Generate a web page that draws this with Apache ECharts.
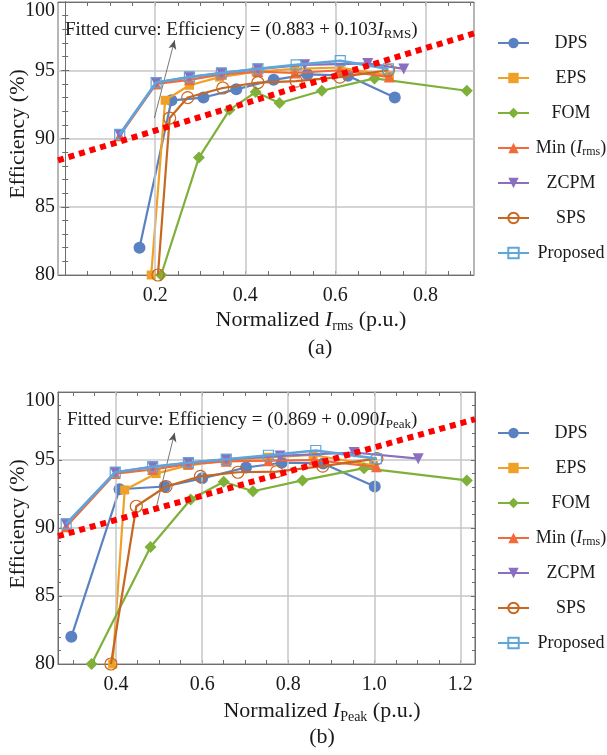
<!DOCTYPE html>
<html><head><meta charset="utf-8">
<script src="https://cdn.jsdelivr.net/npm/echarts@6/dist/echarts.min.js"></script>
<style>html,body{margin:0;padding:0;background:#fff}#c{width:607px;height:755px}</style>
</head><body><div id="c"></div>
<script>
// ---------- Data: panel (a) Normalized Irms ----------
const DPS_x_a  = [0.165, 0.236, 0.307, 0.380, 0.463, 0.538, 0.628, 0.732];
const DPS_y_a  = [82.0, 92.8, 93.0, 93.6, 94.3, 94.7, 94.6, 93.0];
const EPS_x_a  = [0.191, 0.222, 0.276, 0.343, 0.424, 0.510, 0.610, 0.720];
const EPS_y_a  = [80.0, 92.8, 93.9, 94.5, 94.9, 95.1, 95.2, 94.6];
const FOM_x_a  = [0.213, 0.297, 0.365, 0.423, 0.476, 0.570, 0.687, 0.892];
const FOM_y_a  = [80.0, 88.6, 92.1, 93.4, 92.6, 93.5, 94.4, 93.5];
const MIN_x_a  = [0.121, 0.202, 0.276, 0.347, 0.428, 0.510, 0.610, 0.720];
const MIN_y_a  = [90.2, 94.0, 94.3, 94.7, 94.9, 94.8, 95.0, 94.5];
const ZCPM_x_a = [0.121, 0.202, 0.276, 0.347, 0.428, 0.532, 0.672, 0.752];
const ZCPM_y_a = [90.3, 94.1, 94.5, 94.8, 95.1, 95.4, 95.5, 95.1];
const SPS_x_a  = [0.206, 0.232, 0.272, 0.350, 0.428, 0.513, 0.610, 0.718];
const SPS_y_a  = [80.0, 91.5, 93.0, 93.7, 94.1, 94.2, 94.5, 95.0];
const PROP_x_a = [0.121, 0.202, 0.276, 0.347, 0.428, 0.513, 0.611, 0.718];
const PROP_y_a = [90.3, 94.1, 94.5, 94.8, 95.1, 95.4, 95.7, 95.1];
const FIT_x_a  = [-0.016, 0.908];
const FIT_y_a  = [88.4, 97.7];
const ARROW_a  = [[0.198, 91.5], [0.243, 97.2]];

// ---------- Data: panel (b) Normalized IPeak ----------
const DPS_x_b  = [0.296, 0.408, 0.513, 0.600, 0.702, 0.785, 0.881, 1.001];
const DPS_y_b  = [82.0, 92.85, 93.05, 93.65, 94.45, 94.8, 94.75, 93.05];
const EPS_x_b  = [0.392, 0.420, 0.493, 0.567, 0.656, 0.754, 0.858, 0.998];
const EPS_y_b  = [80.0, 92.8, 94.0, 94.6, 94.95, 95.2, 95.37, 94.6];
const FOM_x_b  = [0.343, 0.480, 0.573, 0.650, 0.718, 0.833, 0.976, 1.215];
const FOM_y_b  = [80.0, 88.6, 92.1, 93.4, 92.7, 93.5, 94.4, 93.5];
const MIN_x_b  = [0.284, 0.398, 0.485, 0.568, 0.656, 0.754, 0.860, 1.005];
const MIN_y_b  = [90.1, 94.0, 94.3, 94.7, 94.9, 94.95, 95.0, 94.5];
const ZCPM_x_b = [0.284, 0.398, 0.485, 0.568, 0.656, 0.781, 0.953, 1.102];
const ZCPM_y_b = [90.3, 94.1, 94.5, 94.8, 95.05, 95.3, 95.55, 95.1];
const SPS_x_b  = [0.388, 0.447, 0.516, 0.596, 0.683, 0.773, 0.880, 1.006];
const SPS_y_b  = [80.0, 91.6, 93.05, 93.8, 94.1, 94.15, 94.55, 95.1];
const PROP_x_b = [0.284, 0.398, 0.485, 0.568, 0.656, 0.754, 0.864, 1.005];
const PROP_y_b = [90.3, 94.1, 94.5, 94.8, 95.05, 95.35, 95.7, 95.1];
const FIT_x_b  = [0.265, 1.234];
const FIT_y_b  = [89.4, 98.0];
const ARROW_b  = [[0.494, 91.6], [0.536, 97.0]];

// ---------- Axes / ticks ----------
const SERIES_NAMES = ['DPS', 'EPS', 'FOM', 'Min (Irms)', 'ZCPM', 'SPS', 'Proposed'];
const X_RANGE_A = [-0.016, 0.908];
const X_RANGE_B = [0.265, 1.234];
const Y_RANGE = [80, 100];
const Y_STEP = 5;
const X_LABELS_A = [0.2, 0.4, 0.6, 0.8];
const X_LABELS_B = [0.4, 0.6, 0.8, 1.0, 1.2];
const X_TICKS_A = [0, 0.05, 0.1, 0.15, 0.2, 0.25, 0.3, 0.35, 0.4, 0.45, 0.5, 0.55, 0.6, 0.65, 0.7, 0.75, 0.8, 0.85, 0.9];
const X_TICKS_B = [0.3, 0.35, 0.4, 0.45, 0.5, 0.55, 0.6, 0.65, 0.7, 0.75, 0.8, 0.85, 0.9, 0.95, 1.0, 1.05, 1.1, 1.15, 1.2];

const FONT = "'Liberation Serif', 'DejaVu Serif', serif";
const TXT = '#1a1a1a';
const FRAME = '#6e6e6e';
const GRIDC = '#c6c6c6';

const STYLES = {
  'DPS':        {color: '#5a82c3', symbol: 'circle',   size: 12, rot: 0,   hollow: false, w: 2.2},
  'EPS':        {color: '#eea126', symbol: 'rect',     size: 9,  rot: 0,   hollow: false, w: 2.2},
  'FOM':        {color: '#7fb13a', symbol: 'diamond',  size: 12, rot: 0,   hollow: false, w: 2.2},
  'Min (Irms)': {color: '#f26a3a', symbol: 'triangle', size: 11, rot: 0,   hollow: false, w: 2.2},
  'ZCPM':       {color: '#8a6fc0', symbol: 'triangle', size: 11, rot: 180, hollow: false, w: 2.2},
  'SPS':        {color: '#c8671f', symbol: 'circle',   size: 12, rot: 0,   hollow: true,  w: 2.2},
  'Proposed':   {color: '#5ea6d9', symbol: 'rect',     size: 10, rot: 0,   hollow: true,  w: 2.6}
};

function pairs(xs, ys) { return xs.map((x, i) => [x, ys[i]]); }

function mkSeries(name, xs, ys, gi, z) {
  const s = STYLES[name];
  return {
    type: 'line', name: name, xAxisIndex: gi * 2, yAxisIndex: gi * 2,
    data: pairs(xs, ys), clip: false, z: z,
    symbol: s.symbol, symbolSize: s.size, symbolRotate: s.rot,
    lineStyle: {color: s.color, width: s.w},
    itemStyle: s.hollow ? {color: 'rgba(255,255,255,0)', borderColor: s.color, borderWidth: 1.2}
                        : {color: s.color, borderWidth: 0},
    emphasis: {disabled: true}
  };
}

function gridLineSeries(gi, labels) {
  return {
    type: 'line', xAxisIndex: gi * 2, yAxisIndex: gi * 2, data: [], z: 1, silent: true,
    markLine: {
      silent: true, symbol: ['none', 'none'], label: {show: false},
      lineStyle: {color: GRIDC, width: 1.5, type: 'solid'},
      data: labels.map(v => ({xAxis: v}))
    }
  };
}

function fitSeries(gi, xs, ys, arrow) {
  return {
    type: 'line', xAxisIndex: gi * 2, yAxisIndex: gi * 2, z: 10, silent: true,
    data: pairs(xs, ys), symbol: 'none',
    lineStyle: {color: '#ff0000', width: 6, type: [6, 5]},
    markLine: {
      silent: true, symbol: ['none', 'arrow'], symbolSize: [6, 9],
      label: {show: false},
      lineStyle: {color: '#555', width: 0.8, type: 'solid'},
      data: [[{coord: arrow[0]}, {coord: arrow[1]}]]
    }
  };
}

function xAxes(gi, range, labels, ticks) {
  const common = {
    type: 'value', gridIndex: gi, min: range[0], max: range[1],
    axisLine: {show: true, lineStyle: {color: FRAME, width: 1}},
    axisTick: {show: true, inside: true, length: 4, customValues: ticks, lineStyle: {color: FRAME}},
    splitLine: {show: false}
  };
  return [
    Object.assign({}, common, {position: 'bottom',
      axisLabel: {show: true, customValues: labels, formatter: v => Number(v).toFixed(1),
        fontFamily: FONT, fontSize: 20, color: TXT, margin: 11}}),
    Object.assign({}, common, {position: 'top', axisLabel: {show: false}})
  ];
}

function yAxes(gi) {
  const common = {
    type: 'value', gridIndex: gi, min: Y_RANGE[0], max: Y_RANGE[1], interval: Y_STEP,
    axisLine: {show: true, lineStyle: {color: FRAME, width: 1}},
    axisTick: {show: true, inside: true, length: 4, lineStyle: {color: FRAME}},
    minorTick: {show: true, splitNumber: 5, length: 3, lineStyle: {color: FRAME}}
  };
  return [
    Object.assign({}, common, {position: 'left',
      splitLine: {show: true, lineStyle: {color: GRIDC, width: 1.5}},
      axisLabel: {show: true, fontFamily: FONT, fontSize: 20, color: TXT, margin: 3,
        showMinLabel: true, showMaxLabel: true,
        formatter: v => v === 100 ? '{t|100}' : String(v),
        rich: {t: {fontFamily: FONT, fontSize: 20, color: TXT, padding: [18, 0, 0, 0]}}}}),
    Object.assign({}, common, {position: 'right', splitLine: {show: false}, axisLabel: {show: false}})
  ];
}

const legendRich = {
  c: {align: 'center', fontFamily: FONT, fontSize: 18, color: TXT},
  i: {align: 'center', fontFamily: FONT, fontSize: 18, color: TXT, fontStyle: 'italic'},
  s: {align: 'center', fontFamily: FONT, fontSize: 12, color: TXT, verticalAlign: 'bottom', lineHeight: 10}
};
function legendFmt(name) {
  if (name === 'Min (Irms)') return '{c|Min (}{i|I}{s|rms}{c|)}';
  return '{c|' + name + '}';
}
function mkLegend(top) {
  return {
    data: SERIES_NAMES, orient: 'vertical', left: 497, top: top,
    itemWidth: 31, itemHeight: 13, itemGap: 15, padding: 0,
    formatter: legendFmt, selectedMode: false,
    textStyle: {fontFamily: FONT, fontSize: 18, color: TXT, width: 74, lineHeight: 20, rich: legendRich}
  };
}

const titleRich = {
  i: {fontFamily: FONT, fontSize: 22, fill: TXT, fontStyle: 'italic', lineHeight: 26},
  s: {fontFamily: FONT, fontSize: 14, fill: TXT, verticalAlign: 'bottom', lineHeight: 12}
};
const fitRich = {
  i: {fontFamily: FONT, fontSize: 19, fill: TXT, fontStyle: 'italic', lineHeight: 23},
  s: {fontFamily: FONT, fontSize: 13, fill: TXT, verticalAlign: 'bottom', lineHeight: 11}
};
function gtext(x, y, text, size, align, rich, rot) {
  return {
    type: 'text', x: x, y: y, rotation: rot || 0, silent: true, z: 100,
    style: {text: text, fontFamily: FONT, fontSize: size, fill: TXT, align: align,
      verticalAlign: 'middle', lineHeight: size + 4, rich: rich || {}}
  };
}

const series = [];
const A = [[DPS_x_a, DPS_y_a], [EPS_x_a, EPS_y_a], [FOM_x_a, FOM_y_a], [MIN_x_a, MIN_y_a],
           [ZCPM_x_a, ZCPM_y_a], [SPS_x_a, SPS_y_a], [PROP_x_a, PROP_y_a]];
const B = [[DPS_x_b, DPS_y_b], [EPS_x_b, EPS_y_b], [FOM_x_b, FOM_y_b], [MIN_x_b, MIN_y_b],
           [ZCPM_x_b, ZCPM_y_b], [SPS_x_b, SPS_y_b], [PROP_x_b, PROP_y_b]];
series.push(gridLineSeries(0, X_LABELS_A));
series.push(gridLineSeries(1, X_LABELS_B));
SERIES_NAMES.forEach((n, k) => series.push(mkSeries(n, A[k][0], A[k][1], 0, 3 + k)));
SERIES_NAMES.forEach((n, k) => series.push(mkSeries(n, B[k][0], B[k][1], 1, 3 + k)));
series.push(fitSeries(0, FIT_x_a, FIT_y_a, ARROW_a));
series.push(fitSeries(1, FIT_x_b, FIT_y_b, ARROW_b));

const option = {
  animation: false,
  backgroundColor: '#fff',
  grid: [
    {left: 58, top: 2, width: 416, height: 273, show: true, borderColor: FRAME, borderWidth: 1, backgroundColor: '#fff', outerBoundsMode: 'none'},
    {left: 58, top: 392, width: 417, height: 272, show: true, borderColor: FRAME, borderWidth: 1, backgroundColor: '#fff', outerBoundsMode: 'none'}
  ],
  xAxis: [].concat(xAxes(0, X_RANGE_A, X_LABELS_A, X_TICKS_A), xAxes(1, X_RANGE_B, X_LABELS_B, X_TICKS_B)),
  yAxis: [].concat(yAxes(0), yAxes(1)),
  legend: [mkLegend(33), mkLegend(423)],
  series: series,
  graphic: [
    gtext(65, 30, 'Fitted curve: Efficiency = (0.883 + 0.103{i|I}{s|RMS})', 19, 'left', fitRich),
    gtext(67, 420, 'Fitted curve: Efficiency = (0.869 + 0.090{i|I}{s|Peak})', 19, 'left', fitRich),
    gtext(18, 134, 'Efficiency (%)', 22, 'center', null, Math.PI / 2),
    gtext(18, 524, 'Efficiency (%)', 22, 'center', null, Math.PI / 2),
    gtext(311, 320, 'Normalized {i|I}{s|rms} (p.u.)', 22, 'center', titleRich),
    gtext(322, 711, 'Normalized {i|I}{s|Peak} (p.u.)', 22, 'center', titleRich),
    gtext(320, 348, '(a)', 22, 'center'),
    gtext(322, 737, '(b)', 22, 'center')
  ]
};
const chart = echarts.init(document.getElementById('c'), null, {renderer: 'canvas'});
chart.setOption(option);
</script></body></html>
